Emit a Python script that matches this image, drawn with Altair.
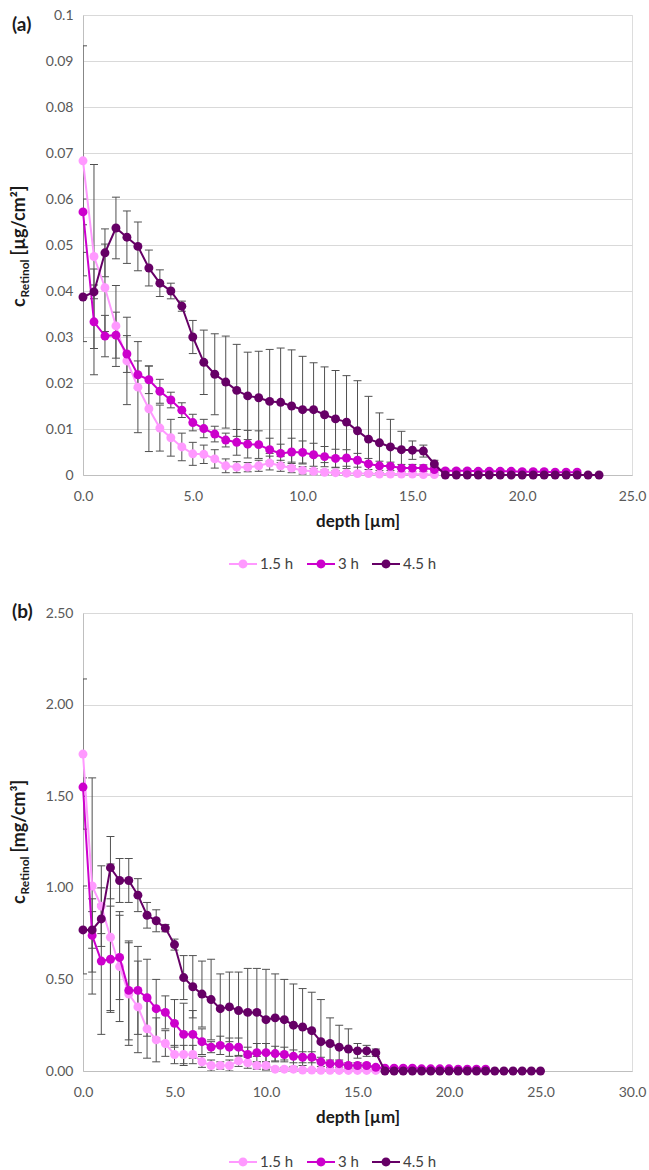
import altair as alt
import pandas as pd

# ---------------- data ----------------
DEPTH = [0.0, 0.5, 1.0, 1.5, 2.0, 2.5, 3.0, 3.5, 4.0, 4.5, 5.0, 5.5, 6.0, 6.5, 7.0,
         7.5, 8.0, 8.5, 9.0, 9.5, 10.0, 10.5, 11.0, 11.5, 12.0, 12.5, 13.0, 13.5,
         14.0, 14.5, 15.0, 15.5, 16.0, 16.5, 17.0, 17.5, 18.0, 18.5, 19.0, 19.5,
         20.0, 20.5, 21.0, 21.5, 22.0, 22.5, 23.0, 23.5, 24.0, 24.5, 25.0]

SERIES = ["1.5 h", "3 h", "4.5 h"]
COLORS = ["#FF99FF", "#CC00CC", "#660066"]

# panel (a): c_Retinol [µg/cm²]
A_15 = [0.0683, 0.0475, 0.0407, 0.0324, 0.0248, 0.0191, 0.0144, 0.0102, 0.0081, 0.0061,
        0.0046, 0.0045, 0.0035, 0.0020, 0.0017, 0.0017, 0.0020, 0.0026, 0.0020, 0.0015,
        0.0010, 0.0008, 0.0006, 0.0005, 0.0004, 0.0003, 0.0003, 0.0002, 0.0002, 0.0002,
        0.0002, 0.0001, 0.0001]
A_15_ERR = [0.0250, 0.0200, 0.0095, 0.0088, 0.0095, 0.0099, 0.0093, 0.0050, 0.0040, 0.0030,
            0.0025, 0.0020, 0.0020, 0.0015, 0.0012, 0.0010, 0.0012, 0.0015, 0.0012, 0.0010,
            0.0008, 0.0006, 0.0005, 0.0004, 0.0003, 0.0003, 0.0002, 0.0002, 0.0002, 0.0002,
            0.0001, 0.0001, 0.0001]
A_3 = [0.0572, 0.0333, 0.0302, 0.0304, 0.0263, 0.0218, 0.0207, 0.0182, 0.0163, 0.0141,
       0.0114, 0.0101, 0.0089, 0.0076, 0.0071, 0.0067, 0.0066, 0.0055, 0.0047, 0.0050,
       0.0049, 0.0044, 0.0040, 0.0036, 0.0037, 0.0032, 0.0024, 0.0020, 0.0019, 0.0015,
       0.0015, 0.0015, 0.0012, 0.0009, 0.0009, 0.0009, 0.0008, 0.0008, 0.0008, 0.0008,
       0.0007, 0.0007, 0.0007, 0.0006, 0.0006, 0.0006]
A_3_ERR = [0.0028, 0.0115, 0.0045, 0.0050, 0.0040, 0.0030, 0.0030, 0.0026, 0.0017, 0.0016,
           0.0018, 0.0020, 0.0017, 0.0015, 0.0028, 0.0030, 0.0030, 0.0025, 0.0020, 0.0030,
           0.0025, 0.0025, 0.0022, 0.0020, 0.0018, 0.0015, 0.0012, 0.0010, 0.0009, 0.0008,
           0.0008, 0.0007, 0.0006, 0.0004, 0.0004, 0.0004, 0.0004, 0.0004, 0.0004, 0.0004,
           0.0004, 0.0004, 0.0004, 0.0004, 0.0004, 0.0004]
A_45 = [0.0387, 0.0398, 0.0483, 0.0537, 0.0517, 0.0497, 0.0450, 0.0417, 0.0400, 0.0367,
        0.0300, 0.0245, 0.0219, 0.0202, 0.0184, 0.0172, 0.0168, 0.0160, 0.0158, 0.0150,
        0.0142, 0.0142, 0.0131, 0.0122, 0.0115, 0.0096, 0.0078, 0.0070, 0.0061, 0.0055,
        0.0054, 0.0052, 0.0024, 0.0, 0.0, 0.0, 0.0, 0.0, 0.0, 0.0, 0.0, 0.0, 0.0, 0.0,
        0.0, 0.0, 0.0, 0.0]
A_45_ERR = [0.0097, 0.0015, 0.0052, 0.0067, 0.0057, 0.0053, 0.0039, 0.0029, 0.0017, 0.0011,
            0.0036, 0.0070, 0.0088, 0.0100, 0.0100, 0.0095, 0.0101, 0.0113, 0.0118, 0.0122,
            0.0116, 0.0102, 0.0104, 0.0105, 0.0101, 0.0109, 0.0093, 0.0065, 0.0060, 0.0040,
            0.0020, 0.0013, 0.0008, 0.0001, 0.0001, 0.0001, 0.0001, 0.0001, 0.0001, 0.0001,
            0.0001, 0.0001, 0.0001, 0.0001, 0.0001, 0.0001, 0.0001, 0.0001]

# panel (b): c_Retinol [mg/cm³]
B_15 = [1.73, 1.01, 0.90, 0.73, 0.57, 0.42, 0.35, 0.23, 0.17, 0.15,
        0.09, 0.09, 0.09, 0.05, 0.03, 0.03, 0.03, 0.055, 0.045, 0.03,
        0.03, 0.01, 0.01, 0.01, 0.005, 0.005, 0.004, 0.004, 0.003, 0.003,
        0.003, 0.003, 0.003]
B_15_ERR = [0.41, 0.59, 0.22, 0.40, 0.30, 0.28, 0.25, 0.16, 0.12, 0.07,
            0.05, 0.05, 0.05, 0.03, 0.03, 0.02, 0.03, 0.03, 0.03, 0.02,
            0.02, 0.01, 0.01, 0.01, 0.005, 0.005, 0.004, 0.004, 0.003, 0.003,
            0.003, 0.003, 0.003]
B_3 = [1.55, 0.74, 0.60, 0.61, 0.62, 0.44, 0.44, 0.40, 0.34, 0.32,
       0.26, 0.20, 0.20, 0.16, 0.13, 0.14, 0.13, 0.13, 0.09, 0.10,
       0.10, 0.095, 0.09, 0.08, 0.075, 0.075, 0.05, 0.04, 0.04, 0.03,
       0.03, 0.03, 0.02, 0.015, 0.015, 0.015, 0.015, 0.012, 0.012, 0.012,
       0.012, 0.01, 0.01, 0.01, 0.01]
B_3_ERR = [0.05, 0.20, 0.40, 0.29, 0.23, 0.27, 0.24, 0.21, 0.16, 0.09,
           0.13, 0.17, 0.13, 0.07, 0.03, 0.05, 0.05, 0.05, 0.04, 0.05,
           0.05, 0.04, 0.04, 0.035, 0.03, 0.03, 0.025, 0.02, 0.02, 0.015,
           0.015, 0.01, 0.01, 0.005, 0.005, 0.005, 0.005, 0.005, 0.005, 0.005,
           0.005, 0.005, 0.005, 0.005, 0.005]
B_45 = [0.77, 0.77, 0.83, 1.11, 1.04, 1.04, 0.96, 0.85, 0.82, 0.78,
        0.69, 0.51, 0.46, 0.42, 0.39, 0.34, 0.35, 0.33, 0.32, 0.32,
        0.28, 0.29, 0.28, 0.25, 0.24, 0.22, 0.16, 0.15, 0.13, 0.12,
        0.11, 0.11, 0.10, 0.0, 0.0, 0.0, 0.0, 0.0, 0.0, 0.0,
        0.0, 0.0, 0.0, 0.0, 0.0, 0.0, 0.0, 0.0, 0.0, 0.0, 0.0]
B_45_ERR = [0.24, 0.10, 0.08, 0.17, 0.12, 0.12, 0.09, 0.07, 0.06, 0.02,
            0.03, 0.12, 0.17, 0.18, 0.22, 0.19, 0.19, 0.21, 0.24, 0.24,
            0.275, 0.24, 0.22, 0.225, 0.21, 0.21, 0.23, 0.14, 0.12, 0.11,
            0.04, 0.03, 0.02, 0.003, 0.003, 0.003, 0.003, 0.003, 0.003, 0.003,
            0.003, 0.003, 0.003, 0.003, 0.003, 0.003, 0.003, 0.003, 0.003, 0.003, 0.003]

X_TICKS_A = [0, 5, 10, 15, 20, 25]
X_TICKS_B = [0, 5, 10, 15, 20, 25, 30]
Y_TICKS_A = [0, 0.01, 0.02, 0.03, 0.04, 0.05, 0.06, 0.07, 0.08, 0.09, 0.1]
Y_TICKS_B = [0, 0.5, 1.0, 1.5, 2.0, 2.5]

X_TITLE = "depth [µm]"
Y_TITLE_C = "c"
Y_TITLE_SUB = "Retinol"
Y_UNIT_A = "[µg/cm²]"
Y_UNIT_B = "[mg/cm³]"
TAG_A = "(a)"
TAG_B = "(b)"

# ---------------- styling ----------------
FONT = "Lato"
GRID = "#D9D9D9"
AXIS_GREY = "#BFBFBF"
ERR_COL = "#505050"
TEXT_GREY = "#595959"
TITLE_COL = "#1a1a1a"
W = 549
# legend symbol: a short line with a dot in the middle (both filled, same winding)
LEG_SYMBOL = ("M-1,-0.075L1,-0.075L1,0.075L-1,0.075Z"
              "M0.32,0A0.32,0.32,0,1,1,-0.32,0A0.32,0.32,0,1,1,0.32,0Z")


def build(values, errors):
    rows = []
    for name, vals, errs in zip(SERIES, values, errors):
        for d, v, e in zip(DEPTH, vals, errs):
            rows.append({"depth": d, "c": v, "lo": v - e, "hi": v + e, "series": name})
    return pd.DataFrame(rows)


def label(text, x, y, size, weight="bold", angle=None, align="left", baseline="alphabetic"):
    kw = dict(font=FONT, fontSize=size, fontWeight=weight, color=TITLE_COL,
              align=align, baseline=baseline)
    if angle is not None:
        kw["angle"] = angle
    return alt.Chart(pd.DataFrame({"t": [text]})).mark_text(**kw).encode(
        text="t:N", x=alt.value(x), y=alt.value(y))


def panel(df, xmax, xticks, ymax, yticks, yfmt, height, tag, tag_y, unit, c_y, sub_y, unit_y):
    xs = alt.Scale(domain=[0, xmax], nice=False, zero=False)
    ys = alt.Scale(domain=[0, ymax], nice=False, zero=False)
    xax = alt.Axis(values=xticks, format=".1f", title=X_TITLE, grid=False, ticks=False,
                   tickSize=0, labelPadding=14, titlePadding=10, labelFlush=False,
                   domainColor=AXIS_GREY, labelFont=FONT, labelFontSize=14,
                   labelColor=TEXT_GREY, titleFont=FONT, titleFontSize=17,
                   titleFontWeight="bold", titleColor=TITLE_COL)
    yax = alt.Axis(values=yticks, format=yfmt, title=None, grid=True, gridColor=GRID,
                   ticks=False, tickSize=0, labelPadding=10, labelFlush=False,
                   domainColor=AXIS_GREY, labelFont=FONT, labelFontSize=14,
                   labelColor=TEXT_GREY)
    X = alt.X("depth:Q", scale=xs, axis=xax)
    base = alt.Chart(df)
    color_scale = alt.Scale(domain=SERIES, range=COLORS)
    legend = alt.Legend(orient="none", legendX=146, legendY=535, direction="horizontal",
                        title=None, symbolType=LEG_SYMBOL, symbolSize=784,
                        symbolStrokeWidth=0, symbolOpacity=1, labelFont=FONT,
                        labelFontSize=15, labelColor="#404040", labelOffset=3,
                        columnPadding=13, padding=0)

    rule = base.mark_rule(color=ERR_COL, strokeWidth=1, clip=True).encode(
        x=X, y=alt.Y("lo:Q", scale=ys, axis=yax), y2="hi:Q")
    cap_lo = base.mark_tick(color=ERR_COL, thickness=1, size=8, orient="horizontal",
                            opacity=1, clip=True).encode(
        x=X, y=alt.Y("lo:Q", scale=ys, axis=yax))
    cap_hi = base.mark_tick(color=ERR_COL, thickness=1, size=8, orient="horizontal",
                            opacity=1, clip=True).encode(
        x=X, y=alt.Y("hi:Q", scale=ys, axis=yax))
    layers = [rule, cap_lo, cap_hi]
    for s, col in zip(SERIES, COLORS):
        sub = base.transform_filter(alt.datum.series == s)
        layers.append(sub.mark_line(strokeWidth=2, color=col).encode(
            x=X, y=alt.Y("c:Q", scale=ys, axis=yax)))
        layers.append(sub.mark_point(filled=True, size=80, opacity=1).encode(
            x=X, y=alt.Y("c:Q", scale=ys, axis=yax),
            color=alt.Color("series:N", scale=color_scale, legend=legend)))
    layers.append(label(tag, -71, tag_y, 19, baseline="top"))
    layers.append(label(Y_TITLE_C, -58, c_y, 18, angle=270))
    layers.append(label(Y_TITLE_SUB, -54, sub_y, 12, angle=270))
    layers.append(label(unit, -58, unit_y, 18, angle=270))
    return alt.layer(*layers).properties(width=W, height=height)


top = panel(build([A_15, A_3, A_45], [A_15_ERR, A_3_ERR, A_45_ERR]),
            25, X_TICKS_A, 0.1, Y_TICKS_A, ".2~f", 460, TAG_A, 1, Y_UNIT_A, 292, 282.5, 240.5)
bottom = panel(build([B_15, B_3, B_45], [B_15_ERR, B_3_ERR, B_45_ERR]),
               30, X_TICKS_B, 2.5, Y_TICKS_B, ".2f", 458, TAG_B, -10, Y_UNIT_B, 291, 281.5, 239.5)

chart = alt.vconcat(top, bottom, spacing=29).resolve_scale(
    x="independent", y="independent", color="independent"
).resolve_legend(color="independent").configure_view(
    stroke=None
).configure(font=FONT).properties(
    padding={"left": 10, "top": 7, "right": 2, "bottom": 2}, background="white")

chart.save("out.html", embed_options={"renderer": "svg", "actions": False})
